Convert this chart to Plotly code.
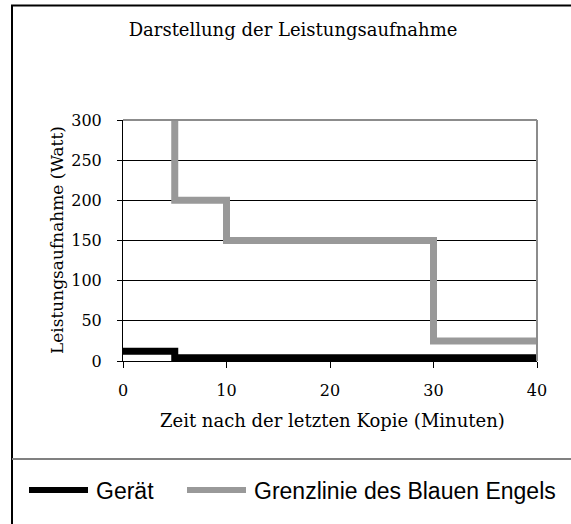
import plotly.graph_objects as go

# Data
geraet_x = [0, 5, 40]
geraet_y = [12, 4, 4]
grenz_x = [5, 10, 30, 40]
grenz_y = [300, 200, 150, 25]
x_ticks = [0, 10, 20, 30, 40]
y_ticks = [0, 50, 100, 150, 200, 250, 300]
series_names = ["Gerät", "Grenzlinie des Blauen Engels"]
title_text = "Darstellung der Leistungsaufnahme"
x_title = "Zeit nach der letzten Kopie (Minuten)"
y_title = "Leistungsaufnahme (Watt)"

W, H = 571, 524
L, R, T, B = 123, 537, 120, 361
pw, ph = R - L, B - T

def px(x):
    return (x - L) / pw

def py(y):
    return (B - y) / ph

serif = "DejaVu Serif, Liberation Serif, serif"
sans = "Liberation Sans, Arial, sans-serif"

fig = go.Figure()
fig.add_trace(go.Scatter(x=grenz_x, y=grenz_y, mode="lines", line_shape="vh",
                         line=dict(color="#999999", width=7), name=series_names[1],
                         showlegend=False))
fig.add_trace(go.Scatter(x=geraet_x, y=geraet_y, mode="lines", line_shape="hv",
                         line=dict(color="#000000", width=7), name=series_names[0],
                         showlegend=False))

shapes = [
    # plot area border (top, right)
    dict(type="line", xref="paper", yref="paper", x0=0, x1=1, y0=1, y1=1,
         line=dict(color="#8c8c8c", width=2)),
    dict(type="line", xref="paper", yref="paper", x0=1, x1=1, y0=0, y1=1,
         line=dict(color="#8c8c8c", width=2)),
    # outer frame
    dict(type="rect", xref="paper", yref="paper", x0=px(12), x1=px(600),
         y0=py(560), y1=py(5.5), line=dict(color="#000000", width=2)),
    # separator above legend
    dict(type="line", xref="paper", yref="paper", x0=px(12), x1=px(600),
         y0=py(459), y1=py(459), line=dict(color="#808080", width=2)),
    # legend symbols
    dict(type="line", xref="paper", yref="paper", x0=px(29), x1=px(88),
         y0=py(490), y1=py(490), line=dict(color="#000000", width=6)),
    dict(type="line", xref="paper", yref="paper", x0=px(187), x1=px(246),
         y0=py(490), y1=py(490), line=dict(color="#999999", width=6)),
]

annotations = [
    dict(text=series_names[0], xref="paper", yref="paper", x=px(94), y=py(491),
         xanchor="left", yanchor="middle", showarrow=False,
         font=dict(family=sans, size=23, color="#000000")),
    dict(text=series_names[1], xref="paper", yref="paper", x=px(252), y=py(491),
         xanchor="left", yanchor="middle", showarrow=False,
         font=dict(family=sans, size=23, color="#000000")),
    dict(text=x_title, xref="paper", yref="paper", x=px(332), y=py(420),
         xanchor="center", yanchor="middle", showarrow=False,
         font=dict(family=serif, size=18, color="#000000")),
    dict(text=y_title, xref="paper", yref="paper", x=px(57), y=py(240),
         xanchor="center", yanchor="middle", showarrow=False, textangle=-90,
         font=dict(family=serif, size=17, color="#000000")),
]

fig.update_layout(
    width=W, height=H,
    margin=dict(l=L, r=W - R, t=T, b=H - B, pad=0),
    paper_bgcolor="white", plot_bgcolor="white",
    title=dict(text=title_text, x=293 / W, y=1 - 30 / H, xref="container",
               yref="container", xanchor="center", yanchor="middle",
               font=dict(family=serif, size=18, color="#000000")),
    shapes=shapes, annotations=annotations,
    showlegend=False,
)
fig.update_xaxes(range=[0, 40], tickvals=x_ticks, ticks="outside", ticklen=6,
                 tickcolor="#000000", showline=True, linecolor="#000000", linewidth=1,
                 showgrid=False, zeroline=False, fixedrange=True, ticklabelstandoff=9,
                 tickfont=dict(family=serif, size=16, color="#000000"))
fig.update_yaxes(range=[0, 300], tickvals=y_ticks, ticks="outside", ticklen=5,
                 tickcolor="#000000", showline=True, linecolor="#000000", linewidth=1,
                 showgrid=True, gridcolor="#000000", gridwidth=1, zeroline=False,
                 fixedrange=True, ticklabelstandoff=12,
                 tickfont=dict(family=serif, size=16, color="#000000"))

fig.write_html("out.html", config={"displayModeBar": False},
               post_script="document.body.style.margin='0px';")
